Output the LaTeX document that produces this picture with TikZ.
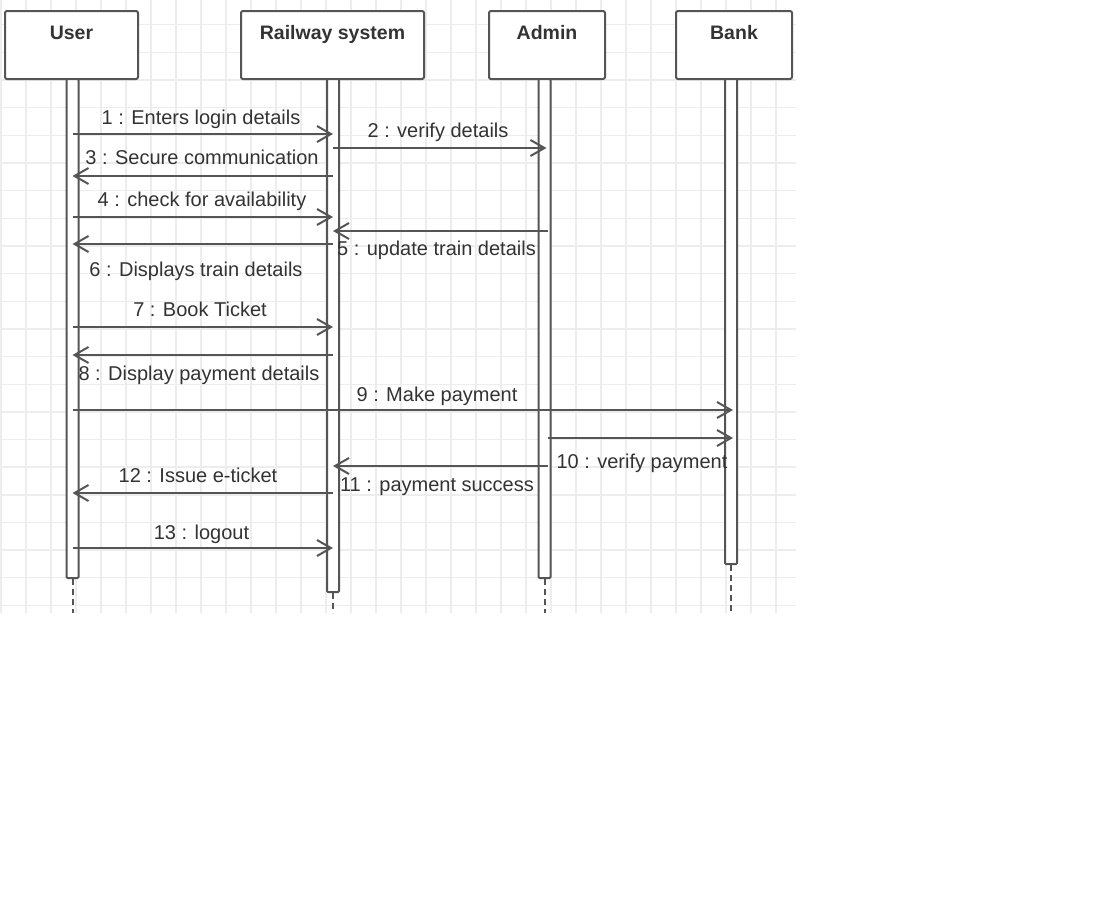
\documentclass[tikz,border=0pt]{standalone}
\usepackage{fontspec}
\setmainfont{Liberation Sans}
\usetikzlibrary{arrows.meta}
\definecolor{linec}{HTML}{555555}
\definecolor{txtc}{HTML}{333333}
\definecolor{gridc}{HTML}{EDEDED}
\begin{document}
\begin{tikzpicture}[x=1pt,y=-1pt,
  gridl/.style={draw=gridc, line width=1.4pt},
  hdr/.style={draw=linec, line width=2pt, fill=white, rounded corners=2pt,
    minimum height=68pt, inner sep=0pt, anchor=north west},
  htxt/.style={text=txtc, font=\bfseries\fontsize{19.5}{22}\selectfont, inner sep=0pt, anchor=base},
  actbar/.style={draw=linec, line width=2pt, fill=white, rounded corners=1pt,
    minimum width=12pt, inner sep=0pt, anchor=north},
  lifed/.style={draw=linec, line width=2pt, dash pattern=on 6pt off 4pt},
  msg/.style={draw=linec, line width=2pt, -{Straight Barb[length=14pt,width=16pt]}},
  lbl/.style={text=txtc, font=\fontsize{20}{23}\selectfont, inner sep=0pt, anchor=base}
]
\useasboundingbox[fill=white] (0,0) rectangle (1097,922);
% grid background
\foreach \i in {0,...,31} \draw[gridl] (1+25*\i,0) -- (1+25*\i,613);
\foreach \j in {0,...,21} \draw[gridl] (0,24.75+27.65*\j) -- (796,24.75+27.65*\j);

% header boxes
\node[hdr, minimum width=133pt] (user) at (4,10) {};
\node[hdr, minimum width=183pt] (rail) at (240,10) {};
\node[hdr, minimum width=116pt] (admin) at (488,10) {};
\node[hdr, minimum width=116pt] (bank) at (675,10) {};
\node[htxt, yshift=-29pt] (usert) at (user.north) {User};
\node[htxt, yshift=-29pt] (railt) at (rail.north) {Railway system};
\node[htxt, yshift=-29pt] (admint) at (admin.north) {Admin};
\node[htxt, yshift=-29pt] (bankt) at (bank.north) {Bank};

% end coordinates of dashed lifelines
\coordinate (uend) at (72.5,613);
\coordinate (rend) at (333,613);
\coordinate (aend) at (544.5,613);
\coordinate (bend) at (731,613);

% activation bars
\node[actbar, minimum height=499pt] (ubar) at (72.5,78) {};
\node[actbar, minimum height=513pt] (rbar) at (333,78) {};
\node[actbar, minimum height=499pt] (abar) at (544.5,78) {};
\node[actbar, minimum height=485pt] (bbar) at (731,78) {};

\draw[lifed] (ubar.south) -- (uend);
\draw[lifed] (rbar.south) -- (rend);
\draw[lifed] (abar.south) -- (aend);
\draw[lifed] (bbar.south) -- (bend);

% message heights
\coordinate (y1) at (0,134);
\coordinate (y2) at (0,148);
\coordinate (y3) at (0,176);
\coordinate (y4) at (0,217);
\coordinate (y5) at (0,231);
\coordinate (y6) at (0,244);
\coordinate (y7) at (0,327);
\coordinate (y8) at (0,355);
\coordinate (y9) at (0,410);
\coordinate (y10) at (0,438);
\coordinate (y11) at (0,466);
\coordinate (y12) at (0,493);
\coordinate (y13) at (0,548);

% messages
\draw[msg] (ubar |- y1) -- (rbar |- y1);
\draw[msg] (rbar |- y2) -- ([xshift=2pt]abar |- y2);
\draw[msg] (rbar |- y3) -- (ubar |- y3);
\draw[msg] (ubar |- y4) -- (rbar |- y4);
\draw[msg] ([xshift=3pt]abar |- y5) -- (rbar |- y5);
\draw[msg] (rbar |- y6) -- (ubar |- y6);
\draw[msg] (ubar |- y7) -- (rbar |- y7);
\draw[msg] (rbar |- y8) -- (ubar |- y8);
\draw[msg] (ubar |- y9) -- ([xshift=2pt]bbar |- y9);
\draw[msg] ([xshift=3pt]abar |- y10) -- ([xshift=2pt]bbar |- y10);
\draw[msg] ([xshift=3pt]abar |- y11) -- (rbar |- y11);
\draw[msg] (rbar |- y12) -- (ubar |- y12);
\draw[msg] (ubar |- y13) -- (rbar |- y13);

% message labels
\node[lbl] (l1) at (201,124) {1 : Enters login details};
\node[lbl] (l2) at (438,137) {2 : verify details};
\node[lbl] (l3) at (202,164) {3 : Secure communication};
\node[lbl] (l4) at (202,206) {4 : check for availability};
\node[lbl] (l5) at (436.5,255) {5 : update train details};
\node[lbl] (l6) at (196,276) {6 : Displays train details};
\node[lbl] (l7) at (200,316) {7 : Book Ticket};
\node[lbl] (l8) at (199,380) {8 : Display payment details};
\node[lbl] (l9) at (437,401) {9 : Make payment};
\node[lbl] (l10) at (642,468) {10 : verify payment};
\node[lbl] (l11) at (437,491) {11 : payment success};
\node[lbl] (l12) at (198,482) {12 : Issue e-ticket};
\node[lbl] (l13) at (201.5,539) {13 : logout};
\end{tikzpicture}
\end{document}
